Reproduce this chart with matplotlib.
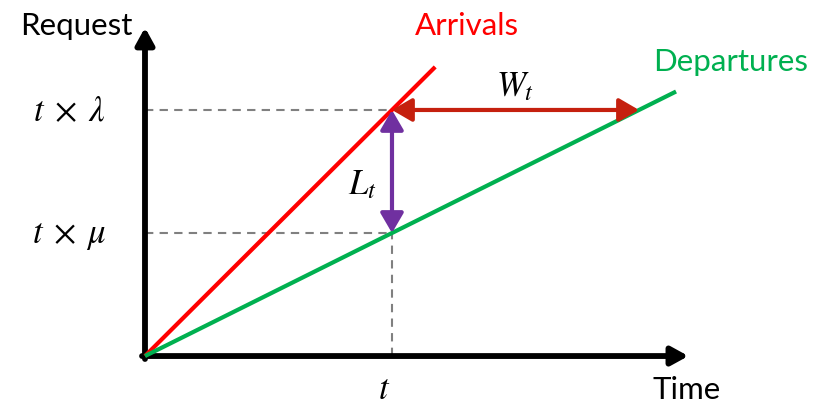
import matplotlib
matplotlib.use("Agg")
import matplotlib.pyplot as plt
import numpy as np

# queue model values (data units: t = 1)
t_now = 1.0
arrival_rate = 1.0      # lambda
departure_rate = 0.5    # mu
arrival_end = 1.175
departure_end = 2.15
axis_x_end = 2.2
axis_y_end = 1.335

plt.rcParams['font.family'] = ['Lato', 'DejaVu Sans']
plt.rcParams['mathtext.fontset'] = 'stix'

fig = plt.figure(figsize=(8.23, 4.06), dpi=100)
ax = fig.add_axes([0, 0, 1, 1])
ax.set_xlim(-0.587, 2.745)
ax.set_ylim(-0.199, 1.451)
ax.axis('off')

# main axes arrows
ax.annotate('', xy=(0, axis_y_end), xytext=(0, -0.012),
            arrowprops=dict(arrowstyle='-|>,head_length=1.0,head_width=0.55',
                            color='black', lw=4.2, shrinkA=0, shrinkB=0))
ax.annotate('', xy=(axis_x_end, 0), xytext=(-0.012, 0),
            arrowprops=dict(arrowstyle='-|>,head_length=1.0,head_width=0.55',
                            color='black', lw=4.2, shrinkA=0, shrinkB=0))

# guide lines
y_arr = arrival_rate * t_now
y_dep = departure_rate * t_now
dash = dict(ls=(0, (4, 3)), color='#808080', lw=1.5, zorder=1)
ax.plot([0, t_now], [y_arr, y_arr], **dash)
ax.plot([0, t_now], [y_dep, y_dep], **dash)
ax.plot([t_now, t_now], [0, y_dep], **dash)

# arrival / departure curves
xa = np.array([0, arrival_end])
xd = np.array([0, departure_end])
ax.plot(xa, arrival_rate * xa, color='#FF0000', lw=3, solid_capstyle='butt', zorder=3)
ax.plot(xd, departure_rate * xd, color='#00B050', lw=3, solid_capstyle='butt', zorder=3)

# L_t and W_t arrows
ax.annotate('', xy=(t_now, y_dep), xytext=(t_now, y_arr),
            arrowprops=dict(arrowstyle='<|-|>,head_length=1.2,head_width=0.7',
                            color='#7030A0', lw=3, shrinkA=0, shrinkB=0), zorder=4)
w_end = y_arr / departure_rate
ax.annotate('', xy=(w_end, y_arr), xytext=(t_now, y_arr),
            arrowprops=dict(arrowstyle='<|-|>,head_length=1.2,head_width=0.7',
                            color='#C5200E', lw=3, shrinkA=0, shrinkB=0), zorder=4)

# labels
ax.text(-0.049, 1.345, 'Request', fontsize=22.5, ha='right', va='center')
ax.text(2.053, -0.135, 'Time', fontsize=22.5, ha='left', va='center')
ax.text(1.093, 1.345, 'Arrivals', fontsize=22.5, color='#FF0000', ha='left', va='center')
ax.text(2.057, 1.2, 'Departures', fontsize=22.5, color='#00B050', ha='left', va='center')
ax.text(-0.305, y_arr, r'$t\;\times\;\lambda$', fontsize=25, ha='center', va='center')
ax.text(-0.305, y_dep - 0.01, r'$t\;\times\;\mu$', fontsize=25, ha='center', va='center')
ax.text(t_now - 0.03, -0.13, r'$t$', fontsize=25, ha='center', va='center')
ax.text(0.88, 0.7, r'$L_t$', fontsize=25, ha='center', va='center')
ax.text(1.5, 1.1, r'$W_t$', fontsize=25, ha='center', va='center')

fig.savefig('out.png', dpi=100)
